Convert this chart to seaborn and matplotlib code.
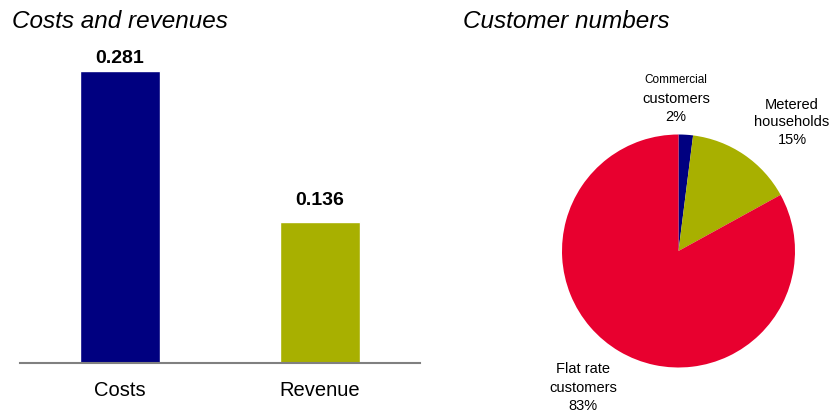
import matplotlib
matplotlib.use("Agg")
import matplotlib.pyplot as plt
import seaborn as sns
import pandas as pd

# Data
bar_categories = ["Costs", "Revenue"]
bar_values = [0.281, 0.136]
bar_labels = ["0.281", "0.136"]

pie_values = [2, 15, 83]
pie_pct_labels = ["2%", "15%", "83%"]

# Styles
bar_colors = ["#000080", "#A8B000"]
pie_colors = ["#000080", "#A8B000", "#E8002F"]
label_gap_px = [4, 13]

sns.set_theme(style="white")
plt.rcParams["font.family"] = ["Liberation Sans", "DejaVu Sans"]
plt.rcParams["text.color"] = "black"
plt.rcParams["xtick.color"] = "black"

W, H = 830, 413
fig = plt.figure(figsize=(W / 100, H / 100), dpi=100)

def fx(px):
    return px / W

def fy(py):
    return 1 - py / H

# Bar chart
ax = fig.add_axes([fx(20), fy(363), fx(400), (363 - 50) / H])
df = pd.DataFrame({"cat": bar_categories, "val": bar_values})
sns.barplot(data=df, x="cat", y="val", hue="cat", palette=bar_colors,
            width=0.4, legend=False, ax=ax, saturation=1)
ax.set_xlim(-0.5, 1.5)
ax.set_ylim(0, (363 - 50) / (292 / 0.281))
for s in ["top", "right", "left"]:
    ax.spines[s].set_visible(False)
ax.spines["bottom"].set_color("#808080")
ax.spines["bottom"].set_linewidth(1.5)
ax.set_yticks([])
ax.set_xlabel("")
ax.set_ylabel("")
ax.tick_params(axis="x", length=0, pad=13, labelsize=14.5, labelcolor="black")
for i, (v, lab) in enumerate(zip(bar_values, bar_labels)):
    ax.annotate(lab, (i, v), xytext=(0, label_gap_px[i] * 0.72), textcoords="offset points",
                ha="center", va="bottom", fontsize=14, fontweight="bold", color="black")

fig.text(fx(12), fy(21), "Costs and revenues", fontsize=17.5, style="italic",
         ha="left", va="center")
fig.text(fx(463), fy(21), "Customer numbers", fontsize=17.5, style="italic",
         ha="left", va="center")

# Pie chart
cx, cy, r = 678.5, 251, 116.5
pax = fig.add_axes([fx(cx - r), fy(cy + r), 2 * r / W, 2 * r / H])
pax.pie(pie_values, colors=pie_colors, startangle=90, counterclock=False,
        wedgeprops=dict(linewidth=0))
pax.set_xlim(-1, 1)
pax.set_ylim(-1, 1)
pax.set_aspect("auto")

# Pie labels
fig.text(fx(676), fy(80), "Commercial", fontsize=8.5, ha="center", va="center")
fig.text(fx(676), fy(99), "customers", fontsize=10.5, ha="center", va="center")
fig.text(fx(676), fy(117), pie_pct_labels[0], fontsize=10.5, ha="center", va="center")

fig.text(fx(792), fy(105), "Metered", fontsize=10.5, ha="center", va="center")
fig.text(fx(792), fy(122), "households", fontsize=10.5, ha="center", va="center")
fig.text(fx(792), fy(140), pie_pct_labels[1], fontsize=10.5, ha="center", va="center")

fig.text(fx(583), fy(369), "Flat rate", fontsize=10.5, ha="center", va="center")
fig.text(fx(583), fy(388), "customers", fontsize=10.5, ha="center", va="center")
fig.text(fx(583), fy(406), pie_pct_labels[2], fontsize=10.5, ha="center", va="center")

fig.savefig("out.png", dpi=100)
